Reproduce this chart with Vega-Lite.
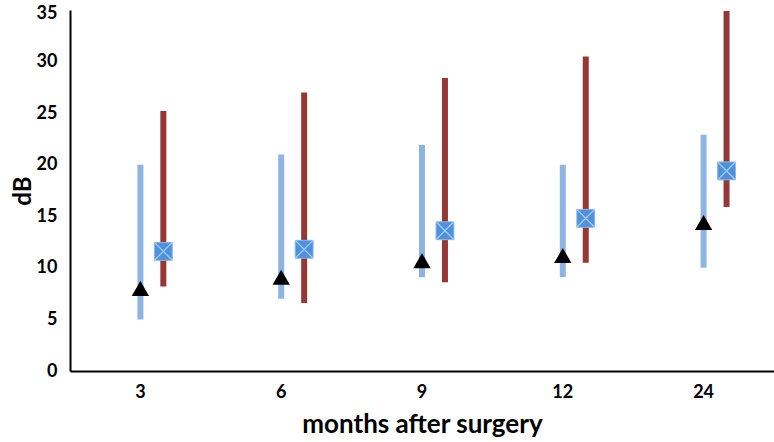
{
  "$schema": "https://vega.github.io/schema/vega-lite/v6.json",
  "autosize": "none",
  "padding": {"left": 70, "top": 10, "right": 0, "bottom": 71},
  "width": 704,
  "height": 361,
  "background": "white",
  "config": {
    "view": {"stroke": null},
    "font": "Lato",
    "axis": {
      "grid": false,
      "ticks": false,
      "domainColor": "black",
      "domainWidth": 2,
      "labelFont": "Lato",
      "labelFontWeight": "bold",
      "labelFontSize": 18,
      "labelColor": "black",
      "titleFont": "Lato",
      "titleFontWeight": "bold",
      "titleFontSize": 24,
      "titleColor": "black"
    }
  },
  "data": {
    "values": [
      {"month": "3", "blue_lo": 5, "blue_hi": 20, "blue_mid": 8.0, "red_lo": 8.2, "red_hi": 25.2, "red_mid": 11.6},
      {"month": "6", "blue_lo": 7, "blue_hi": 21, "blue_mid": 9.1, "red_lo": 6.6, "red_hi": 27, "red_mid": 11.8},
      {"month": "9", "blue_lo": 9.1, "blue_hi": 21.9, "blue_mid": 10.7, "red_lo": 8.6, "red_hi": 28.4, "red_mid": 13.6},
      {"month": "12", "blue_lo": 9.1, "blue_hi": 20, "blue_mid": 11.2, "red_lo": 10.5, "red_hi": 30.5, "red_mid": 14.8},
      {"month": "24", "blue_lo": 10, "blue_hi": 22.9, "blue_mid": 14.4, "red_lo": 15.9, "red_hi": 34.9, "red_mid": 19.4}
    ]
  },
  "encoding": {
    "x": {
      "field": "month",
      "type": "ordinal",
      "sort": null,
      "scale": {"paddingInner": 0, "paddingOuter": 0},
      "axis": {"labelAngle": 0, "labelPadding": 12, "titlePadding": 10, "titleFontSize": 26, "title": "months  after surgery"}
    }
  },
  "layer": [
    {
      "mark": {"type": "rule", "color": "#8db4e2", "strokeWidth": 6, "strokeCap": "butt"},
      "encoding": {
        "y": {
          "field": "blue_lo",
          "type": "quantitative",
          "scale": {"domain": [0, 35], "nice": false},
          "axis": {
            "values": [0, 5, 10, 15, 20, 25, 30, 35],
            "labelPadding": 13,
            "labelOffset": {"condition": {"test": "datum.value == 35", "value": 3}, "value": 0},
            "titlePadding": 1,
            "title": "dB"
          }
        },
        "y2": {"field": "blue_hi"}
      }
    },
    {
      "mark": {"type": "rule", "color": "#953735", "strokeWidth": 6, "strokeCap": "butt"},
      "encoding": {
        "x": {"field": "month", "type": "ordinal", "sort": null, "bandPosition": 0.663},
        "y": {"field": "red_lo", "type": "quantitative"},
        "y2": {"field": "red_hi"}
      }
    },
    {
      "mark": {"type": "point", "shape": "triangle-up", "filled": true, "color": "black", "size": 300, "opacity": 1},
      "encoding": {
        "y": {"field": "blue_mid", "type": "quantitative"}
      }
    },
    {
      "mark": {"type": "point", "shape": "square", "filled": true, "color": "#4f92dc", "size": 320, "opacity": 1, "stroke": "#8bb8ea", "strokeWidth": 1},
      "encoding": {
        "x": {"field": "month", "type": "ordinal", "sort": null, "bandPosition": 0.663},
        "y": {"field": "red_mid", "type": "quantitative"}
      }
    },
    {
      "mark": {"type": "point", "shape": "M-1,-1L1,1M1,-1L-1,1", "filled": false, "stroke": "#a9cdf2", "strokeWidth": 1.2, "size": 320, "opacity": 1},
      "encoding": {
        "x": {"field": "month", "type": "ordinal", "sort": null, "bandPosition": 0.663},
        "y": {"field": "red_mid", "type": "quantitative"}
      }
    }
  ]
}
